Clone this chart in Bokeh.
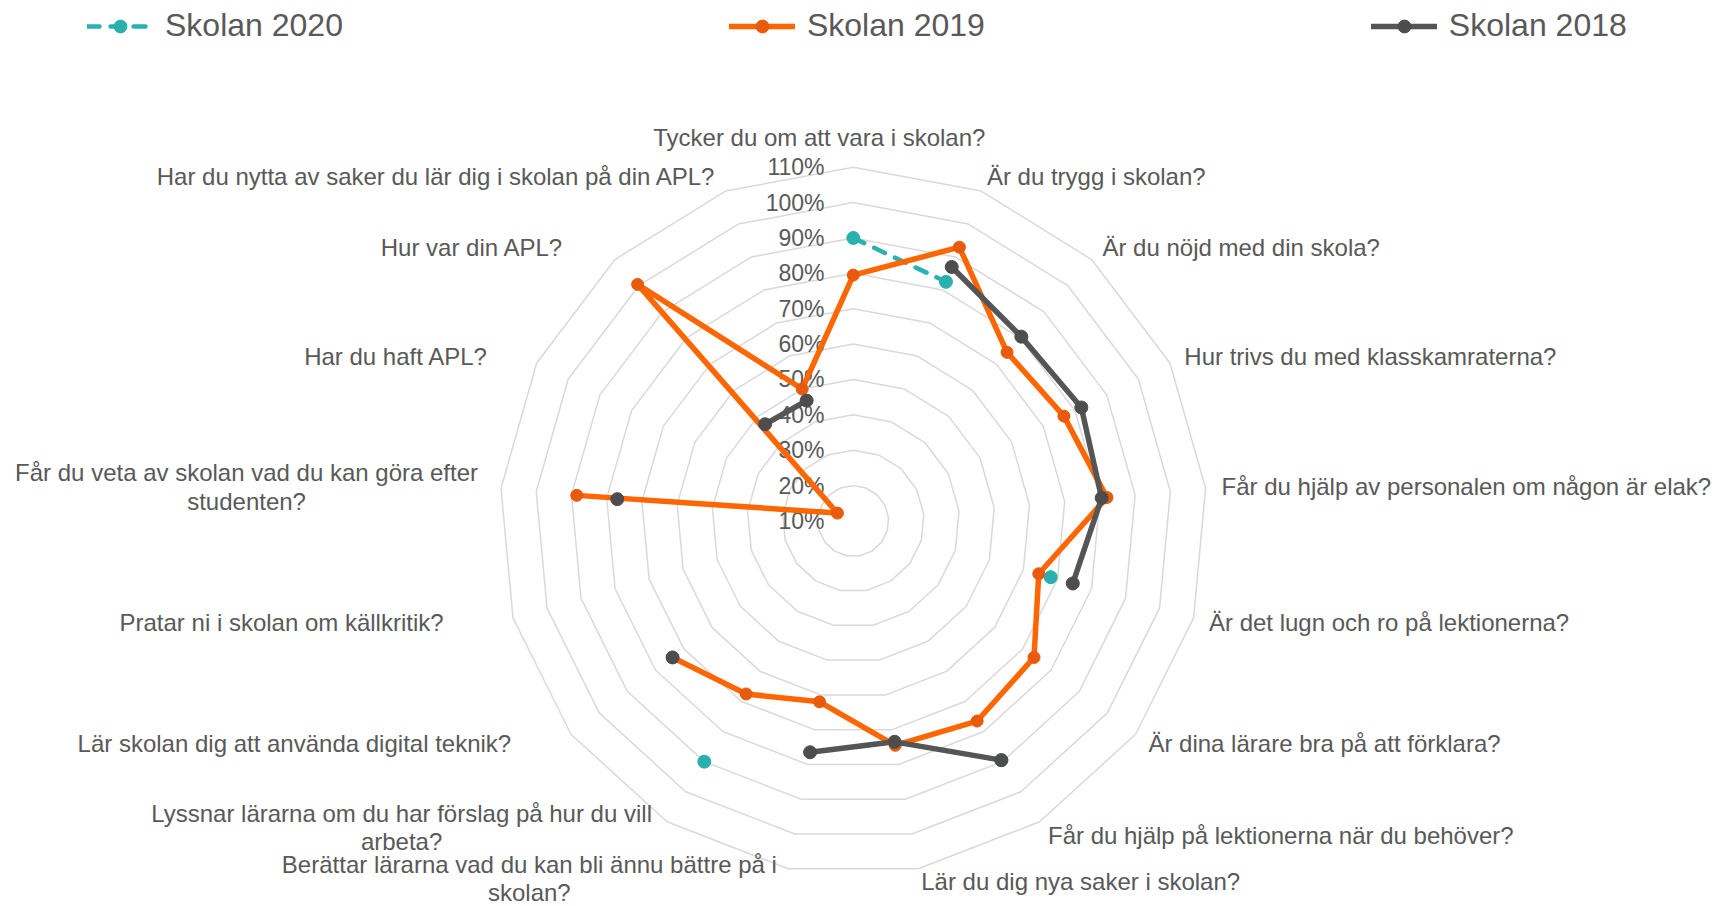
import numpy as np
from bokeh.plotting import figure
from bokeh.models import Range1d, Legend, LegendItem
from bokeh.embed import file_html
from bokeh.resources import INLINE
from bokeh.core.properties import value

# ---------------- data ----------------
categories = [
    "Tycker du om att vara i skolan?",
    "Är du trygg i skolan?",
    "Är du nöjd med din skola?",
    "Hur trivs du med klasskamraterna?",
    "Får du hjälp av personalen om någon är elak?",
    "Är det lugn och ro på lektionerna?",
    "Är dina lärare bra på att förklara?",
    "Får du hjälp på lektionerna när du behöver?",
    "Lär du dig nya saker i skolan?",
    "Berättar lärarna vad du kan bli ännu bättre på i\nskolan?",
    "Lyssnar lärarna om du har förslag på hur du vill\narbeta?",
    "Lär skolan dig att använda digital teknik?",
    "Pratar ni i skolan om källkritik?",
    "Får du veta av skolan vad du kan göra efter\nstudenten?",
    "Har du haft APL?",
    "Hur var din APL?",
    "Har du nytta av saker du lär dig i skolan på din APL?",
]
nan = np.nan
skolan_2020 = [90, 82.5, nan, nan, nan, 68, nan, 89.5, nan, nan, 90, nan, nan, nan, nan, nan, nan]
skolan_2019 = [79.5, 93, 74.5, 76.5, 82, 64.5, 74, 76.5, 74.5, 62, 67.5, 74, nan, 88.5, 15, 100.5, 50]
skolan_2018 = [nan, 87, 80.5, 82, 80.5, 74.5, nan, 89.5, 73.5, 76.5, nan, 74, nan, 77, nan, 47, 46.5]
series_names = ["Skolan 2020", "Skolan 2019", "Skolan 2018"]
tick_values = [10, 20, 30, 40, 50, 60, 70, 80, 90, 100, 110]
tick_labels = ["10%", "20%", "30%", "40%", "50%", "60%", "70%", "80%", "90%", "100%", "110%"]

# ---------------- layout / style ----------------
W, H = 1714, 906
CX, CY = 852.8, 520.5          # chart centre, px from frame top-left
R_MAX = 353.8                  # radius of the max ring
V_MIN, V_MAX = 10, 110
LABEL_GAP = 16
TEXT = "#595959"
FONT = "Liberation Sans"
# per-label (align, dx, dy) nudges in px (dy downwards)
LABEL_LAYOUT = [
    ("center", -34, -14),
    ("left", 0, 0), ("left", 0, 0), ("left", 0, 0), ("left", 0, 0),
    ("left", 0, 0), ("left", 0, 0), ("left", 0, 0), ("left", 0, -3),
    ("center", -256, -6), ("center", -257, -8),
    ("right", -47, 0), ("right", -54, 0), ("center", -238.5, 0),
    ("right", -34, 0), ("right", -40.7, 0), ("right", -4, 0),
]
STYLES = [
    dict(color="#2BB0B0", marker="#2BB0B0", width=4.5, dash="12 11", size=13),
    dict(color="#FF6600", marker="#E85A0C", width=5.5, dash="solid", size=12),
    dict(color="#555555", marker="#4D4D4D", width=5.5, dash="solid", size=13),
]

n = len(categories)
theta = np.pi / 2 - 2 * np.pi * np.arange(n) / n


def radius(v):
    return (np.asarray(v, dtype=float) - V_MIN) / (V_MAX - V_MIN) * R_MAX


p = figure(width=W, height=H, x_range=Range1d(-CX, W - CX), y_range=Range1d(-(H - CY), CY),
           toolbar_location=None, output_backend="svg", x_axis_type=None, y_axis_type=None,
           min_border=0, outline_line_color=None)
p.grid.visible = False
p.background_fill_color = "white"

# rings
ring_xs, ring_ys = [], []
for v in tick_values[1:]:
    r = radius(v)
    ring_xs.append(list(np.append(r * np.cos(theta), r * np.cos(theta[0]))))
    ring_ys.append(list(np.append(r * np.sin(theta), r * np.sin(theta[0]))))
p.multi_line(ring_xs, ring_ys, line_color="#D9D9D9", line_width=1.5)

# radial tick labels
p.text(x=[-28.8] * len(tick_values), y=[float(radius(v)) for v in tick_values], text=tick_labels,
       text_align="right", text_baseline="middle", text_font=value(FONT),
       text_font_size="23px", text_color=TEXT)

# category labels
lx, ly, lt, la = [], [], [], []
for i, lab in enumerate(categories):
    align, dx, dy = LABEL_LAYOUT[i]
    rr = R_MAX + LABEL_GAP
    lx.append(rr * np.cos(theta[i]) + dx)
    ly.append(rr * np.sin(theta[i]) - dy)
    lt.append(lab)
    la.append(align)
for align in ("left", "right", "center"):
    idx = [k for k in range(n) if la[k] == align]
    p.text(x=[lx[k] for k in idx], y=[ly[k] for k in idx], text=[lt[k] for k in idx],
           text_align=align, text_baseline="middle", text_font=value(FONT),
           text_font_size="24px", text_color=TEXT, text_line_height=1.05)

# series
items = []
for name, vals, st in zip(series_names, [skolan_2020, skolan_2019, skolan_2018], STYLES):
    r = radius(vals)
    xs = np.append(r * np.cos(theta), r[0] * np.cos(theta[0]))
    ys = np.append(r * np.sin(theta), r[0] * np.sin(theta[0]))
    lr = p.line(xs, ys, line_color=st["color"], line_width=st["width"], line_dash=st["dash"],
                line_cap="round", line_join="round")
    sr = p.scatter(xs[:-1], ys[:-1], size=st["size"], fill_color=st["marker"], line_color=st["marker"])
    items.append(LegendItem(label=name, renderers=[lr, sr]))

legend = Legend(items=items, orientation="horizontal", location=(87, H - 44),
                glyph_width=66, glyph_height=32, label_standoff=12, spacing=386,
                padding=0, margin=0, border_line_color=None, background_fill_alpha=0,
                label_text_font=FONT, label_text_font_size="32px", label_text_color=TEXT)
p.add_layout(legend)

open("out.html", "w").write(file_html(p, INLINE))
